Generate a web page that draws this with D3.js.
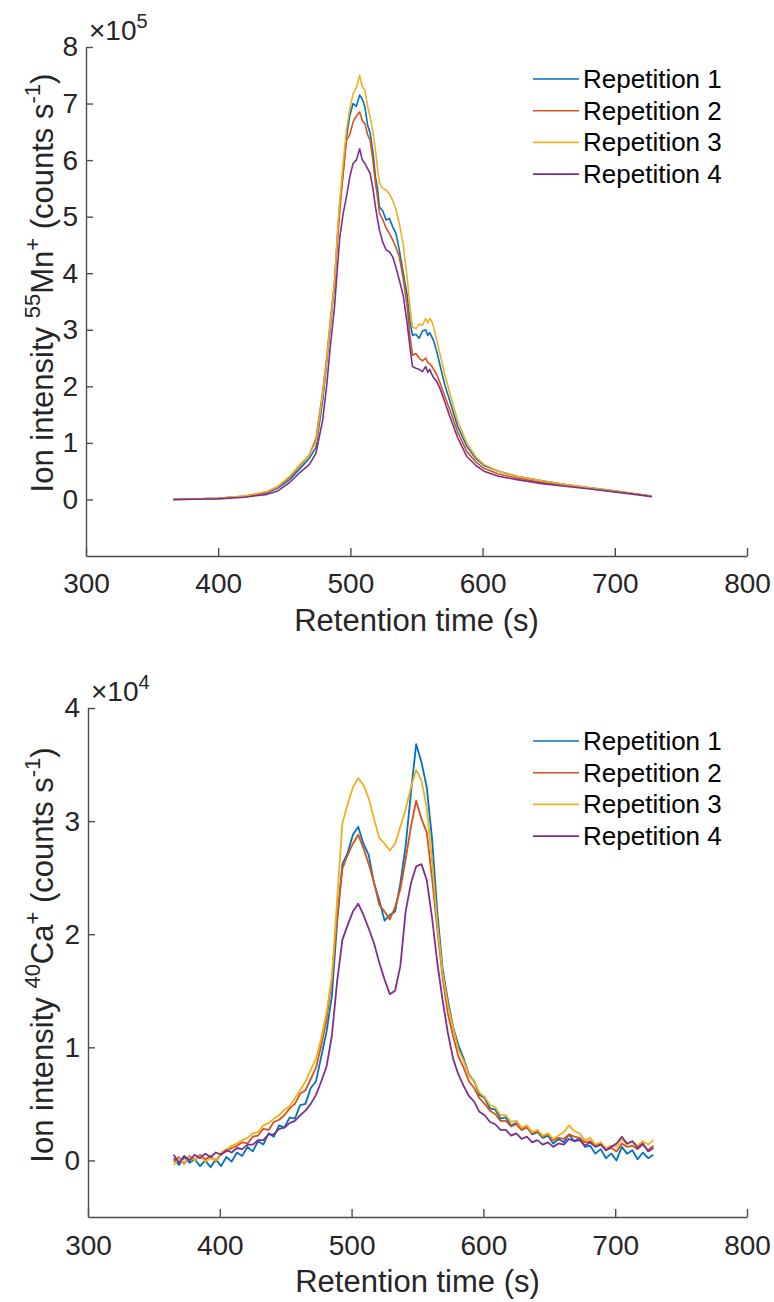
<!DOCTYPE html>
<html>
<head>
<meta charset="utf-8">
<script src="https://cdn.jsdelivr.net/npm/d3@7"></script>
<style>
  body { margin: 0; background: #fff; }
  text { font-family: "Liberation Sans", Arial, sans-serif; fill: #262626; }
  .line { fill: none; stroke-linejoin: round; }
  .axis path, .axis line { stroke: #4d4d4d; stroke-width: 1.4; }
</style>
</head>
<body>
<div id="my_dataviz"></div>
<script>
// series names and colours (MATLAB default order)
var seriesNames = ["Repetition 1", "Repetition 2", "Repetition 3", "Repetition 4"];
var seriesColors = ["#0072BD", "#D95319", "#EDB120", "#7E2F8E"];
var xTicks = [300, 400, 500, 600, 700, 800];

// 55Mn+ (x10^5 counts/s)
var mnTime = [366, 380, 400, 420, 437, 445, 454, 462, 469, 474, 479, 482, 485, 488, 490, 492, 494.5, 497, 499.5, 502,
              504.5, 507, 509, 511, 513, 515, 517, 519, 520.5, 522, 524.5, 527, 529.5, 532, 534.5, 537, 540, 543, 545, 547,
              549.5, 552, 554.5, 557, 558.5, 560, 561.5, 563, 565.5, 568, 571.5, 575, 581, 588, 595, 601, 612, 626, 645, 664,
              683, 701, 715, 728];
var mnRep1 = [0, 0.005, 0.02, 0.05, 0.12, 0.2, 0.35, 0.55, 0.73, 0.92, 1.75, 2.4, 3.1, 3.8, 4.6, 5.25, 5.75, 6.4, 6.78, 7.0,
              6.95, 7.15, 7.08, 6.94, 6.62, 6.47, 6.15, 5.7, 5.5, 5.17, 5.1, 4.94, 4.97, 4.82, 4.7, 4.41, 4.0, 3.6, 3.15, 2.9,
              2.92, 2.85, 2.98, 3.0, 2.9, 2.95, 2.88, 2.8, 2.6, 2.35, 2.02, 1.76, 1.3, 0.94, 0.72, 0.6, 0.5, 0.41, 0.33, 0.26,
              0.2, 0.15, 0.1, 0.06];
var mnRep2 = [0, 0.005, 0.02, 0.06, 0.13, 0.22, 0.39, 0.6, 0.79, 1.08, 1.9, 2.5, 3.2, 3.85, 4.5, 5.1, 5.8, 6.35, 6.45, 6.67,
              6.78, 6.85, 6.7, 6.64, 6.45, 6.35, 6.0, 5.59, 5.35, 5.06, 4.95, 4.8, 4.7, 4.59, 4.45, 4.29, 3.9, 3.4, 2.9, 2.55,
              2.58, 2.5, 2.45, 2.5, 2.42, 2.4, 2.36, 2.3, 2.2, 2.05, 1.82, 1.6, 1.2, 0.85, 0.66, 0.55, 0.45, 0.38, 0.3, 0.25,
              0.19, 0.14, 0.1, 0.05];
var mnRep3 = [0, 0.005, 0.02, 0.06, 0.14, 0.23, 0.41, 0.62, 0.79, 1.02, 1.85, 2.45, 3.15, 3.85, 4.65, 5.29, 5.95, 6.53, 6.9, 7.17,
              7.28, 7.5, 7.3, 7.23, 6.95, 6.76, 6.5, 6.17, 5.85, 5.59, 5.5, 5.47, 5.4, 5.29, 5.12, 4.88, 4.5, 3.9, 3.4, 3.05,
              3.02, 3.1, 3.08, 3.2, 3.12, 3.2, 3.15, 3.05, 2.8, 2.55, 2.2, 1.9, 1.4, 1.0, 0.75, 0.62, 0.5, 0.41, 0.33, 0.26,
              0.2, 0.15, 0.1, 0.06];
var mnRep4 = [0, 0.003, 0.01, 0.04, 0.09, 0.15, 0.3, 0.48, 0.62, 0.82, 1.4, 2.0, 2.75, 3.4, 4.05, 4.64, 5.05, 5.35, 5.7, 5.94,
              6.0, 6.2, 6.0, 5.94, 5.85, 5.76, 5.5, 5.17, 4.95, 4.76, 4.55, 4.41, 4.38, 4.29, 4.1, 3.88, 3.6, 3.1, 2.7, 2.35,
              2.32, 2.3, 2.26, 2.35, 2.25, 2.3, 2.22, 2.15, 2.08, 1.95, 1.72, 1.48, 1.1, 0.76, 0.6, 0.5, 0.41, 0.35, 0.28, 0.23,
              0.18, 0.13, 0.09, 0.05];

// 40Ca+ (x10^4 counts/s)
var caTime = [365, 369, 373, 377, 381, 385, 389, 393, 397, 401, 405, 409, 413, 417, 421, 425, 429, 433, 437, 441,
              445, 449, 453, 457, 461, 465, 469, 473, 477, 481, 485, 489, 493, 497, 501, 505, 509, 513, 517, 521,
              525, 529, 533, 537, 541, 545, 549, 553, 557, 561, 565, 569, 573, 577, 581, 585, 589, 593, 597, 601,
              605, 609, 613, 617, 621, 625, 629, 633, 637, 641, 645, 649, 653, 657, 661, 665, 669, 673, 677, 681,
              685, 689, 693, 697, 701, 705, 709, 713, 717, 721, 725, 729];
var caRep1 = [0.02, -0.04, 0.03, -0.02, 0.01, -0.05, 0.0, -0.06, 0.01, -0.05, 0.03, -0.01, 0.07, 0.04, 0.12, 0.08, 0.17, 0.14, 0.24, 0.21,
              0.31, 0.29, 0.38, 0.37, 0.49, 0.5, 0.64, 0.7, 0.92, 1.14, 1.45, 2.1, 2.62, 2.72, 2.88, 2.95, 2.8, 2.7, 2.45, 2.3,
              2.12, 2.17, 2.2, 2.45, 2.78, 3.25, 3.68, 3.52, 3.3, 2.85, 2.2, 1.7, 1.42, 1.18, 1.02, 0.9, 0.76, 0.7, 0.58, 0.55,
              0.46, 0.45, 0.37, 0.38, 0.31, 0.33, 0.27, 0.3, 0.23, 0.25, 0.2, 0.22, 0.15, 0.19, 0.16, 0.23, 0.17, 0.2, 0.12, 0.13,
              0.06, 0.1, 0.02, 0.06, 0.0, 0.12, 0.06, 0.09, 0.01, 0.07, 0.02, 0.05];
var caRep2 = [-0.01, 0.03, -0.03, 0.04, 0.0, 0.05, 0.01, 0.04, -0.01, 0.06, 0.08, 0.11, 0.13, 0.16, 0.15, 0.21, 0.22, 0.28, 0.27, 0.34,
              0.36, 0.4, 0.46, 0.5, 0.59, 0.62, 0.72, 0.82, 1.02, 1.25, 1.6, 2.15, 2.58, 2.7, 2.8, 2.88, 2.76, 2.62, 2.46, 2.26,
              2.2, 2.13, 2.24, 2.4, 2.66, 2.95, 3.18, 3.02, 2.9, 2.5, 2.05, 1.62, 1.3, 1.1, 0.92, 0.82, 0.7, 0.64, 0.55, 0.5,
              0.44, 0.41, 0.35, 0.35, 0.3, 0.32, 0.27, 0.29, 0.24, 0.26, 0.21, 0.23, 0.18, 0.2, 0.19, 0.23, 0.21, 0.2, 0.16, 0.17,
              0.13, 0.15, 0.09, 0.11, 0.08, 0.15, 0.12, 0.13, 0.1, 0.14, 0.09, 0.13];
var caRep3 = [-0.04, 0.02, -0.02, 0.03, 0.0, 0.04, -0.01, 0.02, 0.0, 0.07, 0.1, 0.13, 0.15, 0.18, 0.2, 0.24, 0.25, 0.31, 0.33, 0.37,
              0.4, 0.45, 0.48, 0.55, 0.62, 0.7, 0.8, 0.9, 1.08, 1.31, 1.62, 2.3, 2.98, 3.15, 3.3, 3.38, 3.32, 3.2, 3.02, 2.85,
              2.8, 2.74, 2.8, 2.95, 3.1, 3.3, 3.45, 3.36, 3.12, 2.65, 2.1, 1.66, 1.38, 1.17, 0.98, 0.88, 0.75, 0.7, 0.6, 0.56,
              0.49, 0.47, 0.4, 0.4, 0.34, 0.35, 0.29, 0.31, 0.25, 0.27, 0.22, 0.24, 0.19, 0.22, 0.25, 0.31, 0.26, 0.24, 0.18, 0.2,
              0.14, 0.16, 0.11, 0.13, 0.12, 0.19, 0.14, 0.17, 0.13, 0.17, 0.14, 0.18];
var caRep4 = [0.05, -0.02, 0.04, 0.0, 0.05, 0.02, 0.06, 0.03, 0.07, 0.05, 0.09, 0.07, 0.11, 0.1, 0.14, 0.14, 0.18, 0.18, 0.23, 0.23,
              0.28, 0.29, 0.33, 0.35, 0.4, 0.44, 0.5, 0.58, 0.7, 0.83, 1.1, 1.58, 1.95, 2.08, 2.2, 2.27, 2.17, 2.05, 1.92, 1.75,
              1.6, 1.47, 1.5, 1.72, 2.2, 2.45, 2.6, 2.62, 2.48, 2.15, 1.75, 1.42, 1.13, 0.9, 0.76, 0.66, 0.57, 0.52, 0.43, 0.4,
              0.34, 0.32, 0.27, 0.27, 0.22, 0.24, 0.19, 0.21, 0.16, 0.18, 0.14, 0.16, 0.12, 0.15, 0.14, 0.19, 0.17, 0.18, 0.13, 0.16,
              0.12, 0.14, 0.09, 0.12, 0.15, 0.21, 0.15, 0.17, 0.11, 0.15, 0.08, 0.11];

var W = 774, H = 1302;
var svg = d3.select("#my_dataviz").append("svg")
    .attr("width", W)
    .attr("height", H);

function drawPanel(p) {
    var x = d3.scaleLinear().domain([300, 800]).range([p.left, p.right]);
    var y = d3.scaleLinear().domain(p.yDomain).range([p.bottom, p.top]);
    var g = svg.append("g");

    // x axis, ticks pointing inward
    var xa = g.append("g").attr("class", "axis")
        .attr("transform", "translate(0," + p.bottom + ")")
        .call(d3.axisBottom(x).tickValues(xTicks).tickSizeInner(-8).tickSizeOuter(0).tickPadding(p.xPad));
    xa.selectAll("text").style("font-size", "28px").attr("fill", "#262626");

    var ya = g.append("g").attr("class", "axis")
        .attr("transform", "translate(" + p.left + ",0)")
        .call(d3.axisLeft(y).tickValues(p.yTicks).tickSizeInner(-7).tickSizeOuter(0).tickPadding(8).tickFormat(d3.format("d")));
    ya.selectAll("text").style("font-size", "28px").attr("fill", "#262626");

    // exponent label
    var ex = g.append("text").attr("x", p.left + 3).attr("y", p.top - 7).style("font-size", "28px");
    ex.append("tspan").text("\u00d710");
    ex.append("tspan").attr("dy", -12).style("font-size", "20px").text(p.exponent);

    // lines
    var line = d3.line()
        .x(function(d) { return x(d[0]); })
        .y(function(d) { return y(d[1]); });
    p.series.forEach(function(vals, i) {
        var pts = p.time.map(function(t, k) { return [t, vals[k]]; });
        g.append("path")
            .datum(pts)
            .attr("class", "line")
            .style("stroke", seriesColors[i])
            .style("stroke-width", p.lineWidth)
            .attr("d", line);
    });

    // axis titles
    g.append("text")
        .attr("x", (p.left + p.right) / 2)
        .attr("y", p.bottom + 75)
        .attr("text-anchor", "middle")
        .style("font-size", "31px")
        .text("Retention time (s)");

    var yl = g.append("text")
        .attr("transform", "translate(" + p.yLabelX + "," + p.yLabelY + ") rotate(-90)")
        .attr("text-anchor", "middle")
        .style("font-size", "31px");
    yl.append("tspan").text("Ion intensity ");
    yl.append("tspan").attr("dy", -13).style("font-size", "22px").text(p.isotope);
    yl.append("tspan").attr("dy", 13).text(p.element);
    yl.append("tspan").attr("dy", -13).style("font-size", "22px").text("+");
    yl.append("tspan").attr("dy", 13).text(" (counts s");
    yl.append("tspan").attr("dy", -13).style("font-size", "22px").text("-1");
    yl.append("tspan").attr("dy", 13).text(")");

    // legend
    var lg = g.append("g");
    seriesNames.forEach(function(name, i) {
        var ly = p.legendTop + i * 31.7;
        lg.append("line")
            .attr("x1", 533).attr("x2", 579)
            .attr("y1", ly).attr("y2", ly)
            .style("stroke", seriesColors[i]).style("stroke-width", 1.6);
        lg.append("text")
            .attr("x", 583).attr("y", ly + 9)
            .style("font-size", "26px").style("fill", "#000")
            .text(name);
    });
}

drawPanel({
    left: 86, right: 747, top: 47, bottom: 556,
    yDomain: [-1, 8], yTicks: [0, 1, 2, 3, 4, 5, 6, 7, 8], exponent: "5",
    time: mnTime, series: [mnRep1, mnRep2, mnRep3, mnRep4], lineWidth: 1.6,
    xPad: 17, yLabelX: 53, yLabelY: 283,
    isotope: "55", element: "Mn", legendTop: 79
});

drawPanel({
    left: 88, right: 747, top: 708, bottom: 1217,
    yDomain: [-0.5, 4], yTicks: [0, 1, 2, 3, 4], exponent: "4",
    time: caTime, series: [caRep1, caRep2, caRep3, caRep4], lineWidth: 1.8,
    xPad: 18, yLabelX: 53, yLabelY: 955,
    isotope: "40", element: "Ca", legendTop: 741
});
</script>
</body>
</html>
